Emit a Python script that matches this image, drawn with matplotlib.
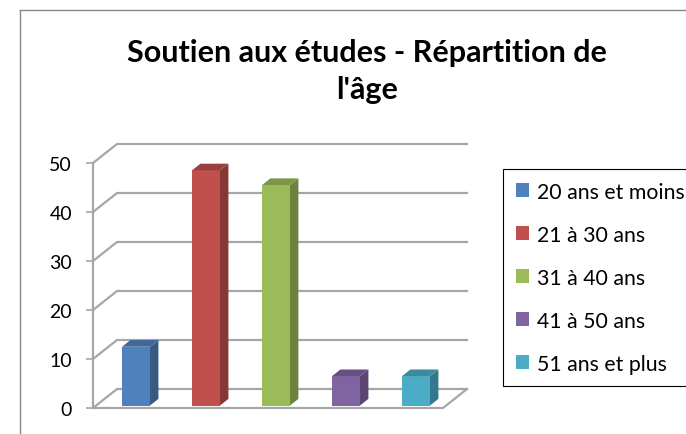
import numpy as np
import matplotlib.pyplot as plt
from matplotlib.lines import Line2D
from matplotlib.patches import Patch

plt.rcParams['font.family'] = ['Lato', 'DejaVu Sans']

categories = ['20 ans et moins', '21 à 30 ans', '31 à 40 ans', '41 à 50 ans', '51 ans et plus']
values = [12, 48, 45, 6, 6]
colors = ['#4f81bd', '#c0504d', '#9bbb59', '#8064a2', '#4bacc6']
yticks = [0, 10, 20, 30, 40, 50]
title = ['Soutien aux études - Répartition de', "l'âge"]

W, H = 686, 435
fig = plt.figure(figsize=(W / 100, H / 100), dpi=100)


def fx(px):
    return px / W


def fy(py):
    return 1 - py / H


# fake 3d: depth offset in data units
DX, DY = 24 / 70, 19 / 4.9
d0, d1 = 0.13, 0.48
half = 0.2
grid = '#a6a6a6'
n = len(values)

ax = fig.add_axes([fx(93), fy(430), 406 / W, 310 / H])
ax.set_xlim(0, 406 / 70)
ax.set_ylim(-21 / 4.9, 289 / 4.9)

for t in yticks:
    ax.plot([0, DX, n + DX], [t, t + DY, t + DY], color=grid, lw=1.6, zorder=1)
ax.plot([0, n, n + DX], [0, 0, DY], color=grid, lw=1.6, zorder=1)

x = np.arange(n) + 0.57
ax.bar(x + d0 * DX, values, width=2 * half, bottom=d0 * DY, color=colors, lw=0, zorder=3)
for xi, v, c in zip(x, values, colors):
    rgb = np.array(plt.matplotlib.colors.to_rgb(c))
    xr = xi + half
    xl = xi - half
    ax.fill([xr + d0 * DX, xr + d1 * DX, xr + d1 * DX, xr + d0 * DX],
            [d0 * DY, d1 * DY, v + d1 * DY, v + d0 * DY],
            color=rgb * 0.7, lw=0, zorder=3)
    ax.fill([xl + d0 * DX, xr + d0 * DX, xr + d1 * DX, xl + d1 * DX],
            [v + d0 * DY, v + d0 * DY, v + d1 * DY, v + d1 * DY],
            color=rgb * 0.8, lw=0, zorder=3)

for s in ['top', 'right', 'bottom']:
    ax.spines[s].set_visible(False)
ax.spines['left'].set_bounds(0, 50)
ax.spines['left'].set_color(grid)
ax.spines['left'].set_linewidth(1.6)
ax.set_xticks([])
ax.set_yticks(yticks)
ax.tick_params(axis='y', length=5, width=1.2, color=grid, pad=10, labelsize=14)
ax.patch.set_visible(False)

fig.text(fx(367), fy(62), title[0], ha='center', va='baseline', fontsize=22, fontweight='bold')
fig.text(fx(367), fy(99), title[1], ha='center', va='baseline', fontsize=22, fontweight='bold')

# chart area border (cut by the image edges)
fig.add_artist(Line2D([fx(20), fx(20)], [fy(11), 0], color='#868686', lw=1))
fig.add_artist(Line2D([fx(20), 1], [fy(11), fy(11)], color='#868686', lw=1))

handles = [Patch(facecolor=c, edgecolor='none') for c in colors]
leg = fig.legend(handles, categories, loc='upper left', bbox_to_anchor=(fx(503), fy(170)),
                 borderaxespad=0, fancybox=False, edgecolor='black', framealpha=1,
                 fontsize=15.3, handlelength=0.62, handleheight=0.62, handletextpad=0.38,
                 labelspacing=1.08, borderpad=0.6)
leg.get_frame().set_linewidth(0.8)

fig.savefig('out.png', dpi=100)
